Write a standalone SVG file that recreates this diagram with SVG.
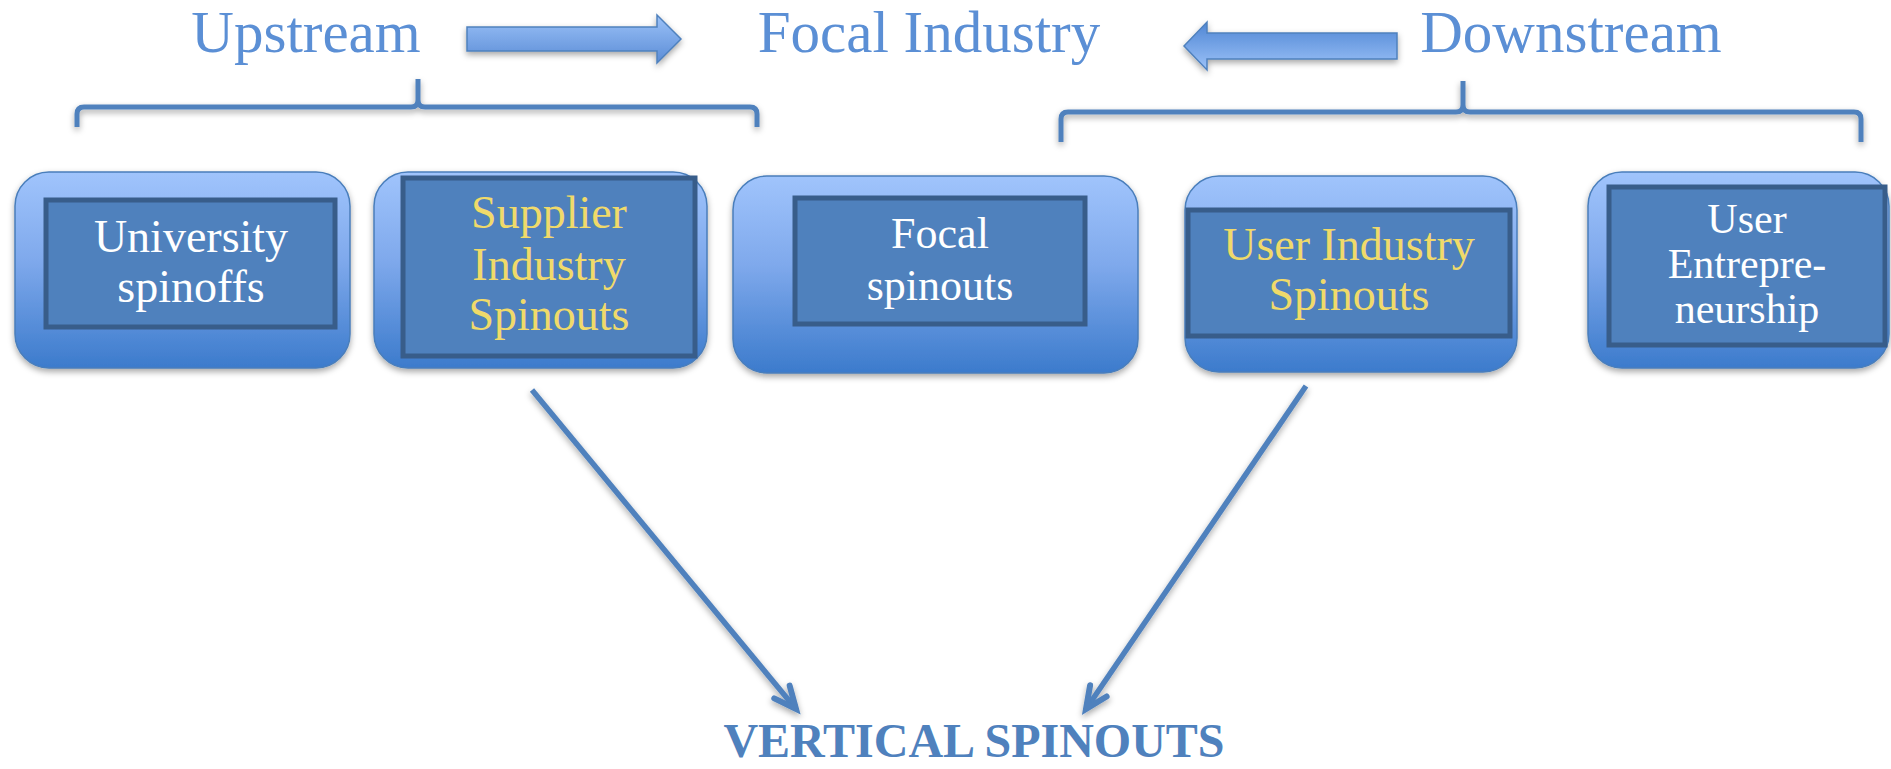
<svg xmlns="http://www.w3.org/2000/svg" width="1891" height="769" viewBox="0 0 1891 769">
  <defs>
    <linearGradient id="boxFill" x1="0" y1="0" x2="0" y2="1">
      <stop offset="0" stop-color="#a0c4fc"/>
      <stop offset="0.45" stop-color="#7fa9ec"/>
      <stop offset="1" stop-color="#3c7bcc"/>
    </linearGradient>
    <linearGradient id="arrowDown" x1="0" y1="0" x2="0" y2="1">
      <stop offset="0" stop-color="#9cc2f8"/>
      <stop offset="1" stop-color="#5a8cd6"/>
    </linearGradient>
    <linearGradient id="arrowUp" x1="0" y1="0" x2="0" y2="1">
      <stop offset="0" stop-color="#4f86d4"/>
      <stop offset="1" stop-color="#9cc2f8"/>
    </linearGradient>
    <filter id="shadow" x="-10%" y="-10%" width="120%" height="130%">
      <feDropShadow dx="0" dy="3" stdDeviation="3" flood-color="#000" flood-opacity="0.35"/>
    </filter>
    <marker id="vhead" markerUnits="userSpaceOnUse" markerWidth="40" markerHeight="40" viewBox="-30 -20 40 40" refX="0" refY="0" orient="auto" overflow="visible">
      <path d="M-22,-10 L0,0 L-22,10" fill="none" stroke="#4f81bd" stroke-width="6" stroke-linecap="round" stroke-linejoin="miter"/>
    </marker>
    <style>
      .outer { fill: url(#boxFill); stroke: #4a7ebb; stroke-width: 1.5; filter: url(#shadow); }
      .inner { fill: #4f81bd; stroke: #385d8a; stroke-width: 5; }
      .lbl { font-family: "Liberation Serif", "Times New Roman", serif; text-anchor: middle; }
      .white { fill: #ffffff; }
      .gold { fill: #f0da6a; }
      .head { font-family: "Liberation Serif", "Times New Roman", serif; font-size: 59px; fill: #5b8fd5; text-anchor: middle; }
      .brace { fill: none; stroke: #4f81bd; stroke-width: 5; stroke-linejoin: round; filter: url(#shadow); }
      .link { fill: none; stroke: #4f81bd; stroke-width: 5.5; marker-end: url(#vhead); filter: url(#shadow); }
    </style>
  </defs>

  <rect width="1891" height="769" fill="#ffffff"/>

  <!-- stream headings and direction arrows -->
  <g id="headings">
    <text class="head" x="306" y="52">Upstream</text>
    <text class="head" x="929" y="52">Focal Industry</text>
    <text class="head" x="1571" y="52">Downstream</text>
    <path d="M467,27 H657 V15 L681,39 L657,63 V51 H467 Z" fill="url(#arrowDown)" stroke="#4f81bd" stroke-width="1.5" filter="url(#shadow)"/>
    <path d="M1397,33 H1207 V22 L1184,46 L1207,70 V59 H1397 Z" fill="url(#arrowUp)" stroke="#4f81bd" stroke-width="1.5" filter="url(#shadow)"/>
  </g>

  <!-- braces grouping the upstream and downstream boxes -->
  <g id="braces">
    <path class="brace" d="M77,127 V114 Q77,107 84,107 H411 Q418,107 418,100 V79 M418,100 Q418,107 425,107 H750 Q757,107 757,114 V127"/>
    <path class="brace" d="M1061,142 V119 Q1061,112 1068,112 H1456 Q1463,112 1463,105 V81 M1463,105 Q1463,112 1470,112 H1854 Q1861,112 1861,119 V142"/>
  </g>

  <g id="university">
    <rect class="outer" x="15" y="172" width="335" height="196" rx="34"/>
    <rect class="inner" x="46" y="200" width="289" height="127"/>
    <text class="lbl white" font-size="46" x="191" y="252">University</text>
    <text class="lbl white" font-size="46" x="191" y="302">spinoffs</text>
  </g>

  <g id="supplier">
    <rect class="outer" x="374" y="172" width="333" height="196" rx="34"/>
    <rect class="inner" x="403" y="178" width="292" height="178"/>
    <text class="lbl gold" font-size="46" x="549" y="228">Supplier</text>
    <text class="lbl gold" font-size="46" x="549" y="280">Industry</text>
    <text class="lbl gold" font-size="46" x="549" y="330">Spinouts</text>
  </g>

  <g id="focal">
    <rect class="outer" x="733" y="176" width="405" height="197" rx="34"/>
    <rect class="inner" x="795" y="198" width="290" height="126"/>
    <text class="lbl white" font-size="44" x="940" y="248">Focal</text>
    <text class="lbl white" font-size="44" x="940" y="300">spinouts</text>
  </g>

  <g id="user-industry">
    <rect class="outer" x="1185" y="176" width="332" height="196" rx="34"/>
    <rect class="inner" x="1188" y="210" width="322" height="126"/>
    <text class="lbl gold" font-size="46" x="1349" y="260">User Industry</text>
    <text class="lbl gold" font-size="46" x="1349" y="310">Spinouts</text>
  </g>

  <g id="user-entrepreneurship">
    <rect class="outer" x="1588" y="172" width="301" height="196" rx="34"/>
    <rect class="inner" x="1609" y="187" width="276" height="158"/>
    <text class="lbl white" font-size="42" x="1747" y="233">User</text>
    <text class="lbl white" font-size="42" x="1747" y="278">Entrepre-</text>
    <text class="lbl white" font-size="42" x="1747" y="323">neurship</text>
  </g>

  <!-- connectors into the vertical spinouts label -->
  <g id="connectors">
    <line class="link" x1="532" y1="390" x2="796" y2="709"/>
    <line class="link" x1="1306" y1="386" x2="1086" y2="709"/>
  </g>

  <g id="vertical-spinouts">
    <text class="lbl" font-size="48" font-weight="bold" fill="#4f81bd" x="974" y="757">VERTICAL SPINOUTS</text>
  </g>
</svg>
